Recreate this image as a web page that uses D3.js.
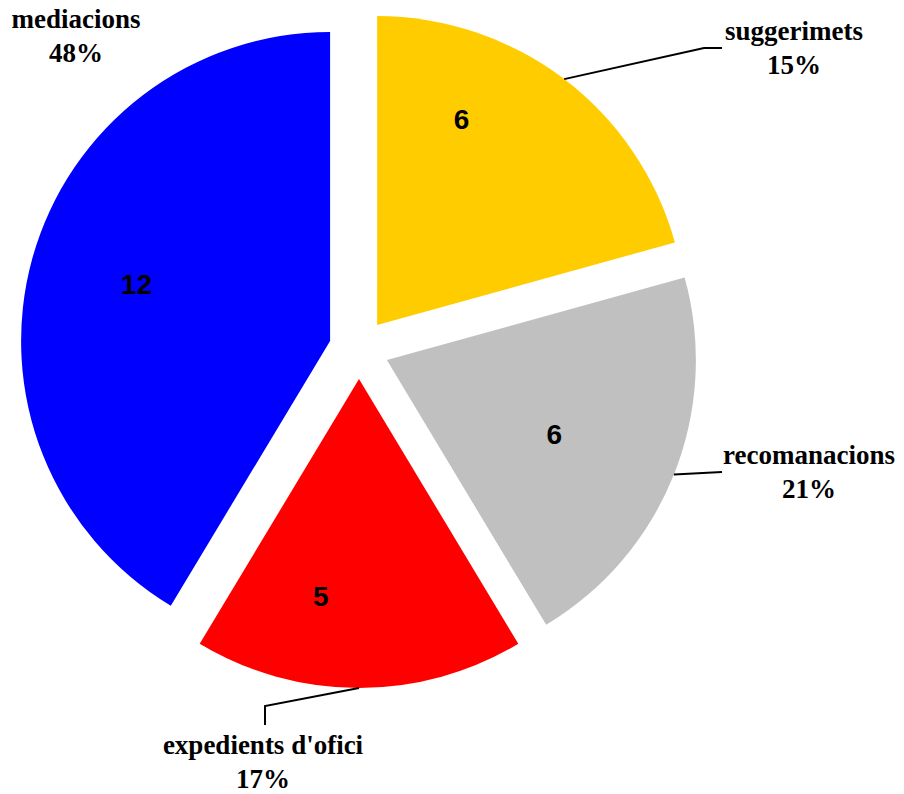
<!DOCTYPE html>
<html>
<head>
<meta charset="utf-8">
<script src="https://cdn.jsdelivr.net/npm/d3@7"></script>
<style>
    body { margin: 0; background: #fff; }
    svg { display: block; }
</style>
</head>
<body>
<script>
(function() {

    // chart data
    var categories = ["suggerimets", "recomanacions", "expedients d'ofici", "mediacions"];
    var values = [6, 6, 5, 12];
    var percentLabels = ["15%", "21%", "17%", "48%"];
    var colors = ["#FFCC00", "#C0C0C0", "#FF0000", "#0000FF"];

    var width = 904,
        height = 794,
        cx = 359,
        cy = 349,
        radius = 309,
        explode = 30;

    // layout tweaks for the value labels (degrees off mid angle, distance from slice tip)
    var valueShift = [-15, 2, 10, 1],
        valueDist = [223, 183, 220, 202];

    // category label anchors: centre x, first baseline, leader elbow / end
    var nameX = [794, 809, 263, 76],
        nameY = [40, 464, 754, 28],
        leaderPts = [
            [[704, 48], [722, 48]],
            [[722, 472]],
            [[265, 706], [265, 725]],
            null
        ];

    var svg = d3.select("body")
        .append("svg")
        .attr("width", width)
        .attr("height", height);

    var pie = d3.pie()
        .sort(null)
        .value(function(d){ return d; });

    var arcs = pie(values);

    var arc = d3.arc()
        .innerRadius(0)
        .outerRadius(radius);

    function midAngle(d){
        return (d.startAngle + d.endAngle) / 2;
    }

    function offset(d){
        var a = midAngle(d);
        return [cx + explode * Math.sin(a), cy - explode * Math.cos(a)];
    }

    var slices = svg.selectAll(".slice")
        .data(arcs)
        .enter()
        .append("g")
        .attr("class", "slice")
        .attr("transform", function(d){
            var o = offset(d);
            return "translate(" + o[0] + "," + o[1] + ")";
        });

    slices.append("path")
        .attr("d", arc)
        .style("fill", function(d, i){ return colors[i]; });

    slices.append("text")
        .attr("x", function(d, i){
            var a = midAngle(d) + valueShift[i] * Math.PI / 180;
            return valueDist[i] * Math.sin(a);
        })
        .attr("y", function(d, i){
            var a = midAngle(d) + valueShift[i] * Math.PI / 180;
            return -valueDist[i] * Math.cos(a) + 10;
        })
        .attr("text-anchor", "middle")
        .style("font-family", "'Liberation Sans', Arial, sans-serif")
        .style("font-weight", "bold")
        .style("font-size", "28px")
        .text(function(d){ return d.data; });

    // leader lines
    var line = d3.line();
    arcs.forEach(function(d, i){
        if (!leaderPts[i]) return;
        var o = offset(d),
            a = midAngle(d);
        var start = [o[0] + radius * Math.sin(a), o[1] - radius * Math.cos(a)];
        svg.append("path")
            .attr("d", line([start].concat(leaderPts[i])))
            .style("fill", "none")
            .style("stroke", "#000")
            .style("stroke-width", 2);
    });

    var names = svg.selectAll(".name")
        .data(categories)
        .enter()
        .append("text")
        .attr("class", "name")
        .attr("text-anchor", "middle")
        .style("font-family", "'Liberation Serif', 'Times New Roman', serif")
        .style("font-weight", "bold")
        .style("font-size", "27px");

    names.append("tspan")
        .attr("x", function(d, i){ return nameX[i]; })
        .attr("y", function(d, i){ return nameY[i]; })
        .text(function(d){ return d; });

    names.append("tspan")
        .attr("x", function(d, i){ return nameX[i]; })
        .attr("y", function(d, i){ return nameY[i] + 34; })
        .text(function(d, i){ return percentLabels[i]; });

})();
</script>
</body>
</html>
